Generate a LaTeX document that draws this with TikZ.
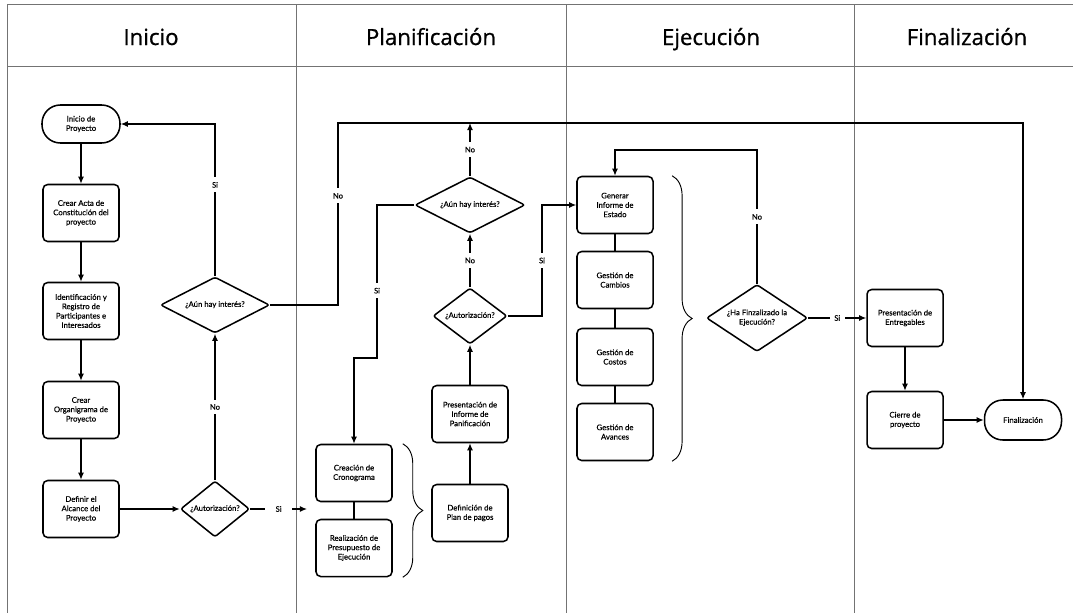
\documentclass[tikz,border=0pt]{standalone}
\usepackage{fontspec}
\setmainfont{Lato}[FakeBold=0.4]
\newfontfamily\headfont{Open Sans}[FakeBold=0.8]
\usetikzlibrary{arrows.meta, positioning, calc, shapes, decorations.pathreplacing}

\tikzset{
  proc/.style={draw, rectangle, rounded corners=4pt, line width=1.3pt, align=center,
    minimum width=2.28cm, minimum height=1.71cm, inner sep=1pt, font=\fontsize{6.6}{8}\selectfont},
  term/.style={proc, rounded corners=0.55cm, minimum width=2.34cm, minimum height=1.14cm},
  decis/.style={draw, diamond, rounded corners=2pt, line width=1.3pt, inner sep=0pt,
    minimum height=1.68cm, font=\fontsize{6.6}{8}\selectfont},
  lbl/.style={fill=white, inner sep=4pt, font=\fontsize{6.5}{8}\selectfont},
  lane/.style={draw=black!55, line width=0.7pt},
  lanetitle/.style={anchor=base, font=\headfont\fontsize{19}{22}\selectfont},
  grupo/.style={decorate, decoration={brace, amplitude=0.6cm}, line width=0.8pt}
}
\newcommand{\dtxt}[1]{\makebox[0pt]{\begin{tabular}{@{}c@{}}#1\end{tabular}}}

\begin{document}
\begin{tikzpicture}[x=0.03cm, y=-0.03cm, >={Latex[length=6pt,width=5pt]}, line width=1pt]
  \useasboundingbox (0,0) rectangle (1073,613);
  \draw[lane] (1073,4) -| (7,613);
  \draw[lane] (7,66) -- (1073,66);
  \draw[lane] (296,4) -- (296,613);
  \draw[lane] (566,4) -- (566,613);
  \draw[lane] (854,4) -- (854,613);
  \node[lanetitle] (tini) at (151,45) {Inicio};
  \node[lanetitle] (tpla) at (431,45) {Planificación};
  \node[lanetitle] (teje) at (711,45) {Ejecución};
  \node[lanetitle] (tfin) at (967,45) {Finalización};

  \node[term] (ini) at (81,124) {Inicio de\\Proyecto};
  \node[proc] (acta) at (81,213) {Crear Acta de\\Constitución del\\proyecto};
  \node[proc] (ident) at (81,311) {Identificación y\\Registro de\\Participantes e\\Interesados};
  \node[proc] (organ) at (81,410) {Crear\\Organigrama de\\Proyecto};
  \node[proc] (alc) at (81,509) {Definir el\\Alcance del\\Proyecto};
  \node[decis, minimum width=2.07cm] (aut1) at (215,509) {\dtxt{¿Autorización?}};
  \node[decis, minimum width=3.27cm] (aun1) at (215,305) {\dtxt{¿Aún hay interés?}};

  \node[proc] (crea) at (354,473) {Creación de\\Cronograma};
  \node[proc] (real) at (354,548) {Realización de\\Presupuesto de\\Ejecución};
  \node[proc] (defp) at (470,513) {Definición de\\Plan de pagos};
  \node[proc] (pres) at (470,414) {Presentación de\\Informe de\\Panificación};
  \node[decis, minimum width=2.22cm] (aut2) at (470,316) {\dtxt{¿Autorización?}};
  \node[decis, minimum width=3.3cm] (aun2) at (470,205) {\dtxt{¿Aún hay interés?}};

  \node[proc] (gen) at (615,205) {Generar\\Informe de\\Estado};
  \node[proc] (cam) at (615,280) {Gestión de\\Cambios};
  \node[proc] (cos) at (615,357) {Gestión de\\Costos};
  \node[proc] (ava) at (615,432) {Gestión de\\Avances};
  \node[decis, minimum width=3.03cm, minimum height=2.01cm] (haf) at (757,318) {\dtxt{¿Ha Finzalizado la\\Ejecución?}};

  \node[proc] (ent) at (905,318) {Presentación de\\Entregables};
  \node[proc] (cie) at (905,420) {Cierre de\\proyecto};
  \node[term, minimum width=2.31cm, minimum height=1.2cm] (fin) at (1023,420) {Finalización};

  \coordinate (sientra) at (307,509);
  \coordinate (noup) at (338,123);
  \coordinate (sibend) at (377,358);
  \coordinate (sib2) at (542,316);
  \coordinate (nob) at (757,150);

  \draw[->] (ini) -- (acta);
  \draw[->] (acta) -- (ident);
  \draw[->] (ident) -- (organ);
  \draw[->] (organ) -- (alc);
  \draw[->] (alc) -- (aut1);
  \draw[->] (aut1) -- node[lbl, inner xsep=9pt]{Si} (sientra);
  \draw[->] (aut1) -- node[lbl]{No} (aun1);
  \draw[->] (aun1.north) |- node[lbl, pos=0.3]{Si} (ini.east);
  \draw[->] (aun1.east) -| node[lbl, pos=0.8]{No} (noup) -| (fin.north);
  \draw[->] (aun2.north) -- node[lbl]{No} (aun2.north |- noup);
  \draw[->] (aun2.west) -| node[lbl, pos=0.78]{Si} (sibend) -| (crea.north);
  \draw[->] (aut2) -- node[lbl]{No} (aun2);
  \draw[->] (aut2.east) -- (sib2) |- node[lbl, pos=0.25]{Si} (gen.west);
  \draw[->] (pres) -- (aut2);
  \draw[->] (defp) -- (pres);
  \draw (crea) -- (real);
  \draw (gen) -- (cam);
  \draw (cam) -- (cos);
  \draw (cos) -- (ava);
  \draw[->] (haf.north) -- node[lbl]{No} (nob) -| (gen.north);
  \draw[->] (haf) -- node[lbl]{Si} (ent);
  \draw[->] (ent) -- (cie);
  \draw[->] (cie) -- (fin);

  \draw[grupo] ([xshift=0.3cm]crea.north east) -- ([xshift=0.3cm]real.south east);
  \draw[grupo] ([xshift=0.55cm]gen.north east) -- ([xshift=0.55cm]ava.south east);
\end{tikzpicture}
\end{document}
